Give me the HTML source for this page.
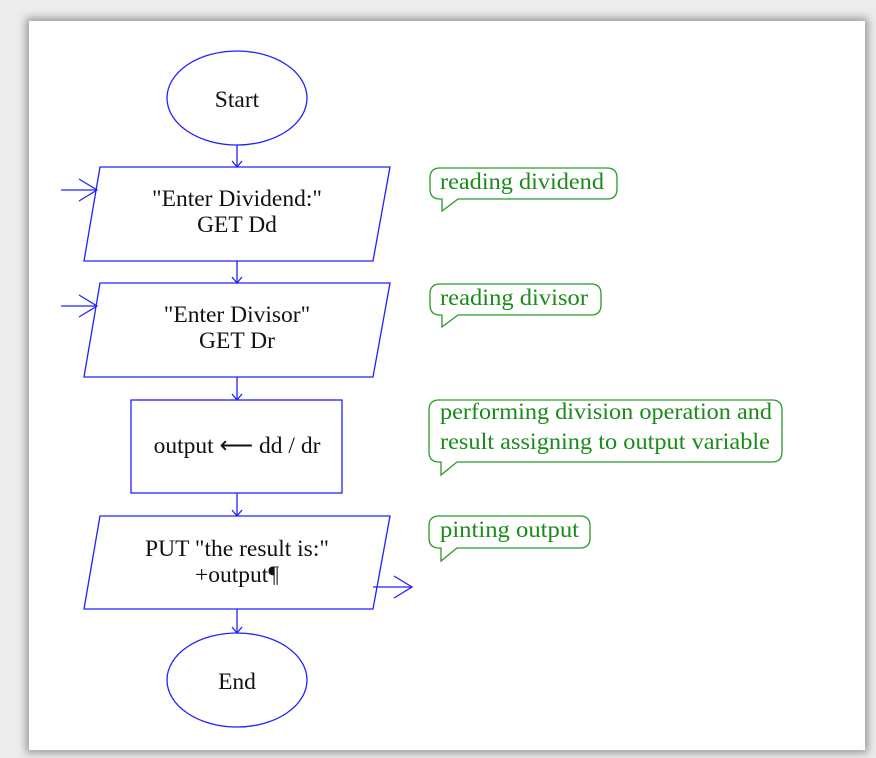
<!DOCTYPE html>
<html><head><style>
html,body{margin:0;padding:0;}
body{width:876px;height:758px;background:#ececec;position:relative;overflow:hidden;}
.page{position:absolute;left:29px;top:21px;width:836px;height:729px;background:#fff;box-shadow:0 0 8px 3px rgba(0,0,0,0.35);}
svg{position:absolute;left:0;top:0;}
</style></head><body>
<div class="page"></div>
<svg width="876" height="758" viewBox="0 0 876 758" font-family="Liberation Serif, serif">
<g fill="none" stroke="#2020ff" stroke-width="1.3">
<ellipse cx="237" cy="98" rx="70" ry="47"/>
<polygon points="100,167 390,167 373,261 84,261"/>
<polygon points="100,283 390,283 373,377 84,377"/>
<rect x="131" y="400" width="211" height="93"/>
<polygon points="100,516 390,516 373,609 84,609"/>
<ellipse cx="237" cy="680" rx="70" ry="47"/>
<line x1="237" y1="145" x2="237" y2="167"/><polyline points="232,161 237,167 242,161"/>
<line x1="237" y1="261" x2="237" y2="283"/><polyline points="232,277 237,283 242,277"/>
<line x1="237" y1="377" x2="237" y2="400"/><polyline points="232,394 237,400 242,394"/>
<line x1="237" y1="493" x2="237" y2="516"/><polyline points="232,510 237,516 242,510"/>
<line x1="237" y1="609" x2="237" y2="633"/><polyline points="232,627 237,633 242,627"/>
<line x1="61" y1="190" x2="97" y2="190"/><polyline points="79,179 97,190 79,201"/>
<line x1="61" y1="306" x2="97" y2="306"/><polyline points="79,295 97,306 79,317"/>
<line x1="373" y1="587" x2="412" y2="587"/><polyline points="394,576 412,587 394,598"/>
</g>
<g font-size="23.5" fill="#111" text-anchor="middle">
<text x="237" y="107">Start</text>
<text x="237" y="206">"Enter Dividend:"</text>
<text x="237" y="232">GET Dd</text>
<text x="237" y="322">"Enter Divisor"</text>
<text x="237" y="348">GET Dr</text>
<text x="237" y="453">output ⟵ dd / dr</text>
<text x="237" y="556">PUT "the result is:"</text>
<text x="237" y="582">+output¶</text>
<text x="237" y="689">End</text>
</g>
<g fill="#fff" stroke="#2a9a2a" stroke-width="1.3">
<path d="M440,168 H607 Q617,168 617,178 V189 Q617,199 607,199 H458 L442,211 V199 H440 Q430,199 430,189 V178 Q430,168 440,168 Z"/>
<path d="M440,284 H591 Q601,284 601,294 V305 Q601,315 591,315 H458 L442,327 V315 H440 Q430,315 430,305 V294 Q430,284 440,284 Z"/>
<path d="M439,400 H772 Q782,400 782,410 V452 Q782,462 772,462 H457 L441,475 V462 H439 Q429,462 429,452 V410 Q429,400 439,400 Z"/>
<path d="M439,516 H580 Q590,516 590,526 V538 Q590,548 580,548 H457 L441,561 V548 H439 Q429,548 429,538 V526 Q429,516 439,516 Z"/>
</g>
<g font-size="23.5" fill="#1a8a1a">
<text x="440" y="189" textLength="164" lengthAdjust="spacingAndGlyphs">reading dividend</text>
<text x="440" y="305" textLength="148" lengthAdjust="spacingAndGlyphs">reading divisor</text>
<text x="440" y="419" textLength="332" lengthAdjust="spacingAndGlyphs">performing division operation and</text>
<text x="440" y="449" textLength="330" lengthAdjust="spacingAndGlyphs">result assigning to output variable</text>
<text x="440" y="537" textLength="139" lengthAdjust="spacingAndGlyphs">pinting output</text>
</g>
</svg>
</body></html>
